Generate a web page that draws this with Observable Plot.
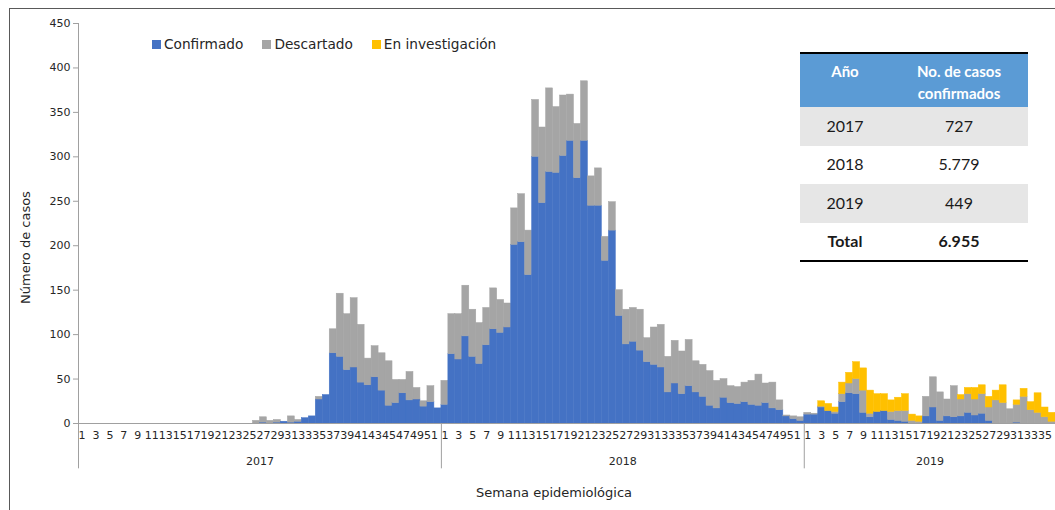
<!DOCTYPE html>
<html>
<head>
<meta charset="utf-8">
<script src="https://cdn.jsdelivr.net/npm/d3@7"></script>
<script src="https://cdn.jsdelivr.net/npm/@observablehq/plot@0.6"></script>
<style>
  html, body { margin: 0; padding: 0; background: #fff; overflow: hidden; }
  #wrap { position: relative; width: 1055px; height: 510px; overflow: hidden;
          font-family: "DejaVu Sans", Verdana, sans-serif; color: #262626; }
  #border { position: absolute; left: 9px; top: 8px; width: 1200px; height: 700px;
            border-left: 1px solid #595959; border-top: 1px solid #595959; pointer-events: none; }
  #chart { position: absolute; left: 0; top: 0; }
  #legend { position: absolute; left: 152px; top: 36px; display: flex; font-size: 13.7px; }
  #legend .item { display: flex; align-items: center; margin-right: 19px; }
  #legend .sw { width: 9px; height: 9px; margin-right: 3px; }
  #tbl { position: absolute; left: 800px; top: 52px; width: 228px; border-collapse: collapse;
         font-family: Lato, "Noto Sans", sans-serif; font-size: 16px; color: #1a1a1a; }
  #tbl th { background: #5B9BD5; color: #fff; font-weight: bold; font-size: 15px; line-height: 22px;
            height: 54px; box-sizing: border-box; padding: 6px 0 0 0; text-align: center; vertical-align: top; }
  #tbl td { height: 38.5px; padding: 0 0 2px 0; box-sizing: border-box; text-align: center; vertical-align: middle; }
  #tbl tr.g td { background: #E6E6E6; }
  #tbl tr.total td { font-weight: bold; }
  #tbl thead tr { border-top: 2px solid #000; }
  #tbl tbody tr:last-child { border-bottom: 2px solid #000; }
</style>
</head>
<body>
<div id="wrap">
  <div id="chart"></div>
  <div id="border"></div>
  <div id="legend"></div>
  <table id="tbl"></table>
</div>
<script>
// ---------- DATA ----------
const years = ["2017", "2018", "2019"];
const statuses = ["Confirmado", "Descartado", "En investigación"];
const colors = ["#4472C4", "#A5A5A5", "#FFC000"];

const confirmado2017 = [0,0,0,0,0,0,0,0,0,0, 0,0,0,0,0,0,0,0,0,0, 0,0,0,0,0,
  0,1,0,1,2,1,2,6,8,27,32,79,75,60,63,46,43,52,37,20,23,34,26,27,19,24,17];
const descartado2017 = [0,0,0,0,0,0,0,0,0,0, 0,0,0,0,0,0,0,0,0,0, 0,0,0,0,0,
  3,6,3,3,0,7,2,0,0,3,0,27,71,63,78,65,30,35,42,50,26,15,32,13,6,18,0];
const investigacion2017 = [0,0,0,0,0,0,0,0,0,0, 0,0,0,0,0,0,0,0,0,0, 0,0,0,0,0,0,0,0,0,0,
  0,0,0,0,0,0,0,0,0,0, 0,0,0,0,0,0,0,0,0,0, 0,0];

const confirmado2018 = [21,78,72,98,75,67,88,106,102,108, 201,204,167,300,248,283,282,301,318,276,
  318,245,245,183,217,121,89,92,82,69, 66,63,35,45,33,42,35,30,20,17, 29,23,22,24,21,20,23,17,15,8, 5,3];
const descartado2018 = [27,45,51,57,53,46,42,46,37,27, 41,54,50,64,85,94,74,68,52,61,
  67,33,42,27,32,29,39,38,46,27, 42,48,40,48,48,52,35,36,39,31, 21,19,19,22,27,35,22,29,11,1, 3,4];
const investigacion2018 = [0,0,0,0,0,0,0,0,0,0, 0,0,0,0,0,0,0,0,0,0, 0,0,0,0,0,0,0,0,0,0,
  0,0,0,0,0,0,0,0,0,0, 0,0,0,0,0,0,0,0,0,0, 0,0];

const confirmado2019 = [10,10,18,14,11,24,34,33,12,7, 13,14,4,3,2,0,0,8,18,3,
  8,7,8,12,9,11,3,0,0,0, 1,0,0,0,0,0];
const descartado2019 = [2,1,1,0,2,9,11,17,25,4, 0,0,9,11,12,3,2,22,34,32,
  19,35,19,21,18,22,15,26,23,16, 20,30,15,12,7,2];
const investigacion2019 = [0,0,6,8,5,13,12,19,25,26, 20,19,13,15,19,7,6,0,0,0,
  0,0,5,7,13,10,12,11,20,0, 5,9,9,22,11,10];

const yTicks = [0, 50, 100, 150, 200, 250, 300, 350, 400, 450];

const tableHeader = ["Año", "No. de casos", "confirmados"];
const tableYears = ["2017", "2018", "2019", "Total"];
const tableCases = ["727", "5.779", "449", "6.955"];

// ---------- BUILD ----------
const series = {
  "2017": [confirmado2017, descartado2017, investigacion2017],
  "2018": [confirmado2018, descartado2018, investigacion2018],
  "2019": [confirmado2019, descartado2019, investigacion2019]
};
const keys = [];
const rows = [];
for (const yr of years) {
  const [c, d, inv] = series[yr];
  c.forEach((v, i) => {
    const key = `${yr}-${i + 1}`;
    keys.push(key);
    rows.push({key, status: statuses[0], value: c[i]});
    rows.push({key, status: statuses[1], value: d[i]});
    rows.push({key, status: statuses[2], value: inv[i]});
  });
}
const oddKeys = keys.filter(k => (+k.split("-")[1]) % 2 === 1);
const yearStarts = years.map(y => `${y}-1`);
const yearMids = years.map(y => `${y}-${Math.floor(series[y][0].length / 2)}`);

const W = 1055, H = 510, ML = 78, MR = 0, MT = 23, MB = 87;
const bw = (W - ML - MR) / keys.length;

const chart = Plot.plot({
  width: W, height: H,
  marginLeft: ML, marginRight: MR, marginTop: MT, marginBottom: MB,
  style: {fontFamily: '"DejaVu Sans", Verdana, sans-serif', fontSize: "11px", color: "#262626", background: "transparent", overflow: "visible"},
  x: {type: "band", domain: keys, padding: 0, axis: null},
  y: {domain: [0, 450], axis: null},
  color: {domain: statuses, range: colors},
  marks: [
    Plot.barY(rows.filter(d => d.value > 0), Plot.stackY({x: "key", y: "value", fill: "status", stroke: "status", strokeWidth: 0.5, order: statuses})),
    Plot.ruleY([0], {stroke: "#A0A0A0"}),
    Plot.ruleX([yearStarts[0]], {dx: -bw / 2, y1: 450, y2: -51, stroke: "#A0A0A0"}),
    Plot.ruleX(yearStarts.slice(1), {dx: -bw / 2, y1: 0, y2: -51, stroke: "#A0A0A0"}),
    Plot.axisX(oddKeys, {tickSize: 0, tickPadding: 8, label: null, fontSize: 11,
      tickFormat: k => k.split("-")[1]}),
    Plot.axisY(yTicks, {tickSize: 5, tickPadding: 3, label: null, stroke: "#A0A0A0", fontSize: 11}),
    Plot.text(years, {x: (d, i) => yearMids[i], text: d => d, frameAnchor: "bottom", dx: bw / 2, dy: 41, fontSize: 11}),
    Plot.text(["Número de casos"], {frameAnchor: "left", textAnchor: "middle", dx: -53, dy: 24, rotate: -90, fontSize: 13}),
    Plot.text(["Semana epidemiológica"], {frameAnchor: "bottom", dx: -13, dy: 73, fontSize: 13})
  ]
});
document.getElementById("chart").appendChild(chart);

// legend
const legend = d3.select("#legend");
statuses.forEach((s, i) => {
  const it = legend.append("div").attr("class", "item");
  it.append("div").attr("class", "sw").style("background", colors[i]);
  it.append("span").text(s);
});

// table
const tbl = d3.select("#tbl");
const hr = tbl.append("thead").append("tr");
hr.append("th").style("width", "90px").text(tableHeader[0]);
const h2 = hr.append("th");
h2.append("span").text(tableHeader[1]);
h2.append("br");
h2.append("span").text(tableHeader[2]);
const tb = tbl.append("tbody");
tableYears.forEach((y, i) => {
  const tr = tb.append("tr").attr("class", (i % 2 === 0 ? "g" : "") + (i === tableYears.length - 1 ? " total" : ""));
  tr.append("td").text(y);
  tr.append("td").text(tableCases[i]);
});
</script>
</body>
</html>
